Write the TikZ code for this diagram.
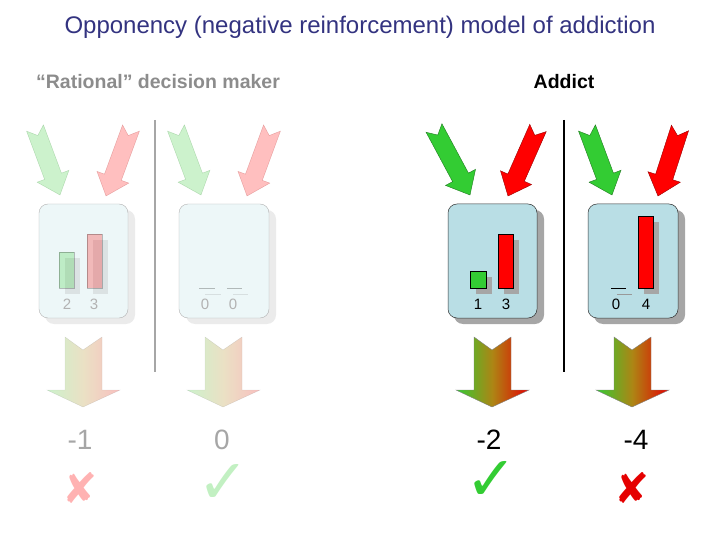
\documentclass[tikz,border=0pt]{standalone}
\usepackage{fontspec}
\setmainfont{Liberation Sans}
\newfontfamily\mydjfont{DejaVu Sans}
\usetikzlibrary{calc}
\definecolor{ttl}{HTML}{333380}
\definecolor{boxc}{HTML}{B9DEE5}
\definecolor{gA}{HTML}{33CC33}
\definecolor{rA}{HTML}{FF0000}
\tikzset{
  arr/.style={draw=#1!60!black, line width=0.4pt, fill=#1},
  bx/.style={rounded corners=9pt, draw=black!80, fill=boxc, line width=0.5pt},
  shd/.style={rounded corners=9pt, fill=black!35, draw=none},
  bar/.style={draw=black, fill=#1, line width=0.5pt},
  bsh/.style={fill=black!35, draw=none},
  num/.style={font=\fontsize{15}{15}\selectfont},
  big/.style={font=\fontsize{28}{28}\selectfont},
  faded/.style={opacity=0.25},
}
\newcommand\inarr[3]{%
 \path (#1) coordinate (ta) (#2) coordinate (tb);
 \path ($(tb)!20pt!(ta)$) coordinate (th) ($(ta)!8pt!(tb)$) coordinate (tn);
 \draw[arr=#3] (tn) -- ($(ta)!9pt!90:(tb)$) -- ($(th)!9pt!-90:(ta)$) -- ($(th)!17pt!-90:(ta)$)
   -- (tb) -- ($(th)!17pt!90:(ta)$) -- ($(th)!9pt!90:(ta)$) -- ($(ta)!9pt!-90:(tb)$) -- cycle;}
\newcommand\downarr[1]{%
 \draw[left color=gA, right color=rA!90!black, middle color=gA!50!rA!80!yellow, draw=black!50]
 (#1-18,337) -- (#1,350) -- (#1+19,337) -- (#1+19,390) -- (#1+37,390) -- (#1,407) -- (#1-36,390) -- (#1-18,390) -- cycle;}
\begin{document}
\begin{tikzpicture}[x=1pt,y=-1pt]
\useasboundingbox (0,0) rectangle (720,540);
\node[text=ttl, font=\fontsize{24}{26}\selectfont] (title) at (360,27) {Opponency (negative reinforcement) model of addiction};
\node[text=black!45, font=\bfseries\fontsize{19.5}{21}\selectfont] (h1) at (158,82) {“Rational” decision maker};
\node[text=black, font=\bfseries\fontsize{19.5}{21}\selectfont] (h2) at (564,82) {Addict};
% dividers
\draw[black!35, line width=2.5pt] (155,120) -- (155,372);
\draw[black, line width=2.5pt] (564,120) -- (564,372);
% rational side
\begin{scope}[faded]
 \inarr{35,128}{60,195}{gA}
 \inarr{131,128}{106,196}{rA}
 \inarr{176,128}{201,195}{gA}
 \inarr{272,128}{247,196}{rA}
 \downarr{83}
 \downarr{223}
\end{scope}
\fill[rounded corners=9pt, black!8] (45,210) rectangle (135,324);
\draw[rounded corners=9pt, fill=boxc!25, draw=black!30] (39,204) rectangle (128,318);
\fill[rounded corners=9pt, black!8] (186,210) rectangle (276,324);
\draw[rounded corners=9pt, fill=boxc!25, draw=black!30] (179,204) rectangle (269,318);
\begin{scope}[faded]
 \fill[bsh] (65,258) rectangle (80,294); \draw[bar=gA] (59,252) rectangle (74,288);
 \fill[bsh] (93,240) rectangle (108,294); \draw[bar=rA] (87,234) rectangle (102,288);
 \draw[black!40] (205,294) -- (221,294); \draw[black] (199,288) -- (215,288);
 \draw[black!40] (233,294) -- (248,294); \draw[black] (227,288) -- (242,288);
\end{scope}
\node[num, text=black!30] (a1) at (67,304) {2};
\node[num, text=black!30] (a2) at (94,304) {3};
\node[num, text=black!30] (b1) at (205,304) {0};
\node[num, text=black!30] (b2) at (233,304) {0};
% addict side
\inarr{434,128}{470,195}{gA}
\inarr{538,128}{508,196}{rA}
\inarr{587,128}{612,195}{gA}
\inarr{680,128}{658,196}{rA}
\downarr{492}
\downarr{632}
\fill[shd] (454,210) rectangle (544,324);
\draw[bx] (448,204) rectangle (537,318);
\fill[shd] (594,210) rectangle (685,324);
\draw[bx] (588,204) rectangle (678,318);
\fill[bsh] (476,277) rectangle (492,294); \draw[bar=gA] (470,271) rectangle (486,288);
\fill[bsh] (504,240) rectangle (519,294); \draw[bar=rA] (498,234) rectangle (513,288);
\draw[black!40] (617,294) -- (632,294); \draw[black] (611,288) -- (626,288);
\fill[bsh] (644,222) rectangle (659,294); \draw[bar=rA] (638,216) rectangle (653,288);
\node[num] (c1) at (478,304) {1};
\node[num] (c2) at (506,304) {3};
\node[num] (d1) at (616,304) {0};
\node[num] (d2) at (646,304) {4};
% results
\node[big, text=black!35] (r1) at (80,440) {-1};
\node[big, text=black!35] (r2) at (222,440) {0};
\node[big] (r3) at (489,440) {-2};
\node[big] (r4) at (636,440) {-4};
\node[text=rA!30, font=\mydjfont\fontsize{42}{42}\selectfont] (m1) at (80,488) {✘};
\node[text=gA!30, font=\mydjfont\fontsize{62}{62}\selectfont] (m2) at (223,484) {✓};
\node[text=gA, font=\mydjfont\fontsize{62}{62}\selectfont] (m3) at (491,481) {✓};
\node[text=rA!90!black, font=\mydjfont\fontsize{42}{42}\selectfont] (m4) at (632,488) {✘};
\end{tikzpicture}
\end{document}
